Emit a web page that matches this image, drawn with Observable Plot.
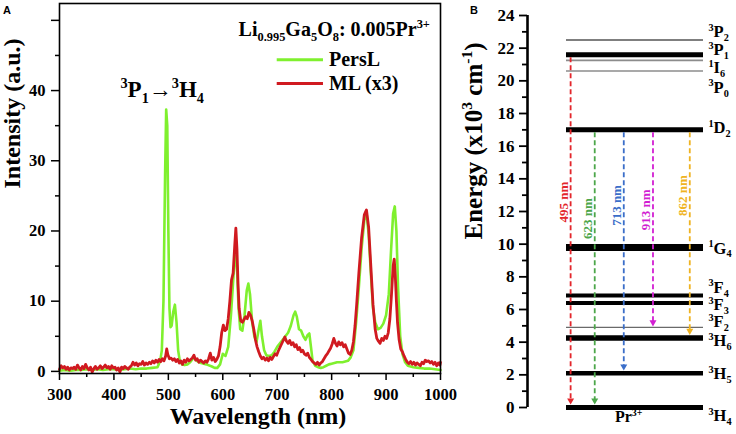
<!DOCTYPE html>
<html><head><meta charset="utf-8">
<script src="https://cdn.jsdelivr.net/npm/d3@7"></script>
<script src="https://cdn.jsdelivr.net/npm/@observablehq/plot@0.6"></script>
<style>
body{margin:0;background:#fff}
#wrap{position:relative;width:736px;height:434px;display:flex}
.tag{position:absolute;font:bold 11px 'Liberation Sans',Arial,sans-serif;color:#000}
</style></head><body>
<div id="wrap"><div id="a"></div><div id="b"></div>
<div class="tag" style="left:3px;top:4px">A</div>
<div class="tag" style="left:470px;top:4px">B</div></div>
<script>
// ---------- Panel A data ----------
const sampleName = "Li_{0.995}Ga_{5}O_{8}: 0.005Pr^{3+}";
const seriesNames = ["PersL", "ML (x3)"];
const peakLabel = "^{3}P_{1}→^{3}H_{4}";
const xTitleA = "Wavelength (nm)";
const yTitleA = "Intensity (a.u.)";
const xMajor = [300, 400, 500, 600, 700, 800, 900, 1000];
const xMinor = [350, 450, 550, 650, 750, 850, 950];
const yMajor = [0, 10, 20, 30, 40, 50];
const yLabeled = [0, 10, 20, 30, 40];
const yMinor = [5, 15, 25, 35, 45];

// PersL spectrum [wavelength nm, intensity]
const persL = [
[300,0.1],[310,0.2],[320,0.1],[330,0.2],[340,0.2],[350,0.3],[360,0.2],[370,0.3],[380,0.2],[390,0.3],
[400,0.3],[410,0.2],[420,0.3],[430,0.4],[440,0.3],[450,0.4],[460,0.4],[470,0.5],[480,0.6],[485,1.5],
[488,3],[491,10],[494,28],[496,37.3],[498,35],[500,20],[502,9],[504,6.3],[506,6.5],[509,8.5],
[512,9.5],[515,7],[518,3],[521,1.5],[525,1],[530,0.9],[535,1],[540,1.3],[545,1.8],[548,2],
[552,1.5],[560,1.2],[570,1],[580,0.7],[585,0.5],[590,0.5],[595,1],[600,2.5],[605,2.2],[610,3.5],
[615,8],[620,14],[623,16.5],[626,15],[629,9],[632,6],[636,5.8],[640,8],[644,11.5],[647,12.5],
[650,11],[654,7],[658,5],[662,4.2],[666,6],[669,7.2],[672,5],[676,3],[680,2.3],[685,2.2],
[690,2.3],[695,2.8],[700,3.5],[705,4],[710,4.5],[715,5],[720,5.5],[725,6.5],[730,8],[733,8.5],
[736,7.8],[740,6],[744,5.8],[748,5],[752,4.5],[756,5.2],[759,5.4],[762,3.5],[765,1.5],[770,0.8],
[775,0.6],[780,0.5],[785,0.6],[790,0.8],[795,1],[800,1.1],[810,1.3],[820,1.3],[830,1.5],[835,2],
[840,3],[845,7],[850,12],[855,17.5],[860,21.5],[864,22.7],[868,19.5],[872,14],[876,9],[880,7],
[885,6],[890,6.2],[895,6.8],[900,8],[905,11],[909,17],[913,22.5],[916,23.5],[919,20],[922,12],
[926,5],[930,2.5],[935,1.3],[940,0.8],[950,0.6],[960,0.5],[970,0.4],[980,0.4],[990,0.3],[1000,0.2]
];

// ML (x3) spectrum [wavelength nm, intensity]
const ml = [
[300,0.3],[303,0.8],[306,0.5],[309,0.7],[312,0.3],[315,0.6],[318,0.2],[321,0.5],[324,0.4],[327,0.6],
[330,0.3],[333,0.9],[336,0.5],[339,0.2],[342,0.7],[345,0.4],[348,1.0],[351,0.5],[354,0.2],[357,0.6],
[360,-0.1],[363,0.4],[366,0.7],[369,0.3],[372,0.5],[375,0.8],[378,0.4],[381,0.6],[384,0.9],[387,0.5],
[390,0.7],[393,0.3],[396,0.8],[399,0.5],[402,0.6],[405,0.2],[408,0.5],[411,-0.1],[414,0.6],[417,0.4],
[420,0.7],[423,0.5],[426,0.3],[429,0.6],[432,0.8],[435,1.3],[438,0.9],[441,1.2],[444,0.8],[447,1.1],
[450,1.0],[453,1.4],[456,0.9],[459,1.2],[462,1.0],[465,1.3],[468,1.1],[471,1.5],[474,1.2],[477,1.6],
[480,1.3],[483,1.7],[486,1.4],[489,1.8],[492,1.5],[495,2.2],[497,3.2],[499,2.4],[502,1.8],[505,1.9],
[508,1.6],[511,1.8],[514,1.4],[517,1.7],[520,1.2],[523,1.5],[526,1.0],[529,1.6],[532,1.3],[535,1.8],
[538,1.5],[541,1.7],[544,1.9],[547,2.3],[550,1.6],[553,1.8],[556,1.3],[559,1.6],[562,1.4],[565,1.2],
[568,1.5],[571,1.3],[574,1.8],[577,2.6],[580,1.6],[583,2.0],[586,1.4],[589,1.7],[592,2.2],[595,3.5],
[598,5.5],[601,6.6],[604,5.8],[607,6.0],[610,7.5],[613,10],[616,13],[619,14],[622,18],[624,20.4],
[626,17.5],[628,12.5],[630,9],[633,7.2],[636,7.0],[639,7.4],[642,7.8],[645,7.5],[648,8.4],[651,8.0],
[654,7.2],[657,6.0],[660,4.5],[663,3.5],[666,2.8],[669,2.2],[672,1.8],[675,2.0],[678,1.6],[681,1.9],
[684,1.5],[687,2.0],[690,1.7],[693,2.1],[696,2.5],[699,2.3],[702,2.9],[705,3.4],[708,3.9],[711,4.4],
[714,4.9],[717,4.3],[720,4.0],[723,4.4],[726,3.8],[729,4.1],[732,3.5],[735,3.8],[738,3.1],[741,3.4],
[744,2.8],[747,3.0],[750,2.5],[753,2.3],[756,2.6],[759,2.0],[762,1.7],[765,1.4],[768,1.2],[771,1.0],
[774,1.3],[777,0.9],[780,1.2],[783,1.4],[786,1.8],[789,2.2],[792,2.5],[795,2.9],[798,3.3],[801,3.9],
[804,4.7],[807,4.0],[810,3.6],[813,4.2],[816,3.8],[819,4.1],[822,3.5],[825,3.8],[828,3.2],[831,2.6],
[834,2.4],[837,3.0],[840,4.2],[843,6.5],[846,9.5],[850,14],[855,19],[860,22.3],[864,23],[868,20.5],
[872,15],[876,9.5],[880,6],[883,4.7],[886,4.3],[889,4.0],[892,4.7],[895,4.4],[898,5.0],[901,4.7],
[904,5.5],[907,7.5],[910,11],[913,15],[915,16],[917,13.5],[919,10],[921,7],[924,4.5],[927,3.2],
[930,2.8],[933,2.2],[936,1.7],[939,1.3],[942,1.1],[945,1.4],[948,1.0],[951,1.3],[954,0.9],[957,1.2],
[960,1.0],[963,0.8],[966,1.3],[969,1.1],[972,1.6],[975,1.4],[978,1.5],[981,1.2],[984,1.4],[987,1.0],
[990,1.3],[993,0.8],[996,1.2],[999,0.9],[1000,1.3]
];

// ---------- Panel B data ----------
const levelNames = ["3P2","3P1","1I6","3P0","1D2","1G4","3F4","3F3","3F2","3H6","3H5","3H4"];
const levelEnergy = [22.5, 21.6, 21.25, 20.6, 17.0, 9.8, 6.85, 6.4, 4.9, 4.25, 2.1, 0];
const transWavelength = [495, 623, 713, 913, 862];
const transFrom = ["3P1","1D2","1D2","1D2","1D2"];
const transTo = ["3H4","3H4","3H5","3F2","3H6"];
const ionName = "Pr^{3+}";
const yTitleB = "Energy (x10^{3} cm^{-1})";
const yTicksB = [0,2,4,6,8,10,12,14,16,18,20,22,24];
const yMinorB = [1,3,5,7,9,11,13,15,17,19,21,23];

// ---------- styles / layout ----------
const FONT = "'Liberation Serif','Times New Roman',serif";
const GREEN = "#7ff02e", RED = "#d01a20";
const LEVEL_STYLE = {"3P2":[1.2,"#000"],"3P1":[5,"#000"],"1I6":[1.6,"#8c8c8c"],"3P0":[1.6,"#8c8c8c"],
  "1D2":[5,"#000"],"1G4":[7,"#000"],"3F4":[4,"#000"],"3F3":[4,"#000"],"3F2":[1.2,"#6a6a6a"],
  "3H6":[5.5,"#000"],"3H5":[4.5,"#000"],"3H4":[5,"#000"]};
const LEVEL_LABEL_Y = [23.0, 21.9, 20.8, 19.6, 17.1, 9.75, 7.36, 6.3, 5.23, 4.1, 2.08, -0.49];
const TRANS_COLOR = ["#e3262b","#4ca64a","#3b6ec9","#d21fd2","#efb321"];
const TRANS_SLOT = [0.245, 0.382, 0.547, 0.713, 0.922];
const TRANS_LABEL_Y = [12.57, 11.56, 12.37, 12.1, 12.98];

const markup = n => n.replace(/^(\d)([A-Z])(\d)$/, "^{$1}$2_{$3}");

// ---------- Panel A ----------
const persRows = persL.map(([wl, v]) => ({wl, v}));
const mlRows = ml.map(([wl, v]) => ({wl, v}));
const legendY = [44.4, 41.0];
const TICK_FS = 16.5;

const chartA = Plot.plot({
  width: 460, height: 434,
  marginLeft: 59, marginRight: 20, marginTop: 3, marginBottom: 61,
  x: {domain: [300, 1000]},
  y: {domain: [-0.3, 52.4]},
  style: {fontFamily: FONT, fontWeight: "bold", fontSize: "16.5px", color: "#000", background: "#fff", overflow: "visible"},
  marks: [
    Plot.line(persRows, {x: "wl", y: "v", stroke: GREEN, strokeWidth: 2.6}),
    Plot.line(mlRows, {x: "wl", y: "v", stroke: RED, strokeWidth: 2.8}),
    Plot.frame({stroke: "#000", strokeWidth: 1.6}),
    Plot.axisX(xMajor, {tickSize: 7, tickPadding: 8, strokeWidth: 1.5, label: null, tickFormat: d => String(d), fontSize: TICK_FS}),
    Plot.axisX(xMinor, {tickSize: 4, strokeWidth: 1.5, tickFormat: () => "", label: null}),
    Plot.axisY(yMajor, {tickSize: 8, tickPadding: 6, strokeWidth: 1.5, tickFormat: d => yLabeled.includes(d) ? String(d) : "", label: null, fontSize: TICK_FS}),
    Plot.axisY(yMinor, {tickSize: 4, strokeWidth: 1.5, tickFormat: () => "", label: null}),
    Plot.text([xTitleA], {text: d => d, frameAnchor: "bottom", lineAnchor: "middle", dx: 8, dy: 43, fontSize: 24}),
    Plot.text([yTitleA], {text: d => d, frameAnchor: "left", lineAnchor: "middle", rotate: -90, dx: -47, fontSize: 24}),
    Plot.text([sampleName], {text: d => d, x: 629, y: 48.7, textAnchor: "start", fontSize: 20}),
    Plot.ruleY([legendY[0]], {x1: 700, x2: 785, stroke: GREEN, strokeWidth: 3}),
    Plot.ruleY([legendY[1]], {x1: 700, x2: 785, stroke: RED, strokeWidth: 3}),
    Plot.text(seriesNames, {text: d => d, x: 795, y: (d, i) => legendY[i], textAnchor: "start", fontSize: 20}),
    Plot.text([peakLabel], {text: d => d, x: 412, y: 40.1, textAnchor: "start", fontSize: 23})
  ]
});

// ---------- Panel B ----------
const mt = 15, mb = 27, hB = 434;
const pxPerUnit = (hB - mt - mb) / 24;
const E = Object.fromEntries(levelNames.map((n, i) => [n, levelEnergy[i]]));
const levelRows = levelNames.map((name, i) => ({name, e: levelEnergy[i]}));
const transRows = transWavelength.map((wl, i) => {
  const tip = E[transTo[i]] + (LEVEL_STYLE[transTo[i]][0] / 2 + 0.5) / pxPerUnit;
  return {
    wl, i,
    x: TRANS_SLOT[i],
    y1: E[transFrom[i]] - (LEVEL_STYLE[transFrom[i]][0] / 2) / pxPerUnit,
    y2: tip + 3 / pxPerUnit,
    tip,
    color: TRANS_COLOR[i],
    ly: TRANS_LABEL_Y[i]
  };
});

const chartB = Plot.plot({
  width: 276, height: hB,
  marginLeft: 67, marginRight: 33, marginTop: mt, marginBottom: mb,
  x: {domain: [0, 1], axis: null},
  y: {domain: [0, 24]},
  color: {type: "identity"},
  style: {fontFamily: FONT, fontWeight: "bold", fontSize: "17px", color: "#000", background: "#fff", overflow: "visible"},
  marks: [
    Plot.axisY(yTicksB, {tickSize: 8, tickPadding: 5, strokeWidth: 1.8, label: null, fontSize: 17}),
    Plot.axisY(yMinorB, {tickSize: 5, strokeWidth: 1.8, tickFormat: () => "", label: null}),
    Plot.ruleX([0], {stroke: "#000", strokeWidth: 2.6}),
    Plot.ruleY(levelRows, {y: "e", x1: 0.2216, x2: 1, stroke: d => LEVEL_STYLE[d.name][1], strokeWidth: d => LEVEL_STYLE[d.name][0]}),
    Plot.text(levelRows, {x: 1, y: (d, i) => LEVEL_LABEL_Y[i], text: d => markup(d.name), textAnchor: "start", dx: 5, fontSize: 16.5}),
    Plot.link(transRows, {x1: "x", x2: "x", y1: "y1", y2: "y2", stroke: "color", strokeWidth: 1.8, strokeDasharray: "5,3"}),
    Plot.dot(transRows, {x: "x", y: "tip", symbol: "triangle", r: 2.6, rotate: 180, fill: "color", stroke: null, dy: -4}),
    Plot.text(transRows, {x: "x", y: "ly", text: d => `${d.wl} nm`, rotate: -90, dx: -7, fill: "color", fontSize: 13}),
    Plot.text([ionName], {text: d => d, x: 0.575, y: -0.55, fontSize: 16}),
    Plot.text([yTitleB], {text: d => d, frameAnchor: "left", lineAnchor: "middle", rotate: -90, dx: -54, dy: 28, fontSize: 25})
  ]
});

document.getElementById("a").appendChild(chartA);
document.getElementById("b").appendChild(chartB);

// rich text: ^{..} superscript, _{..} subscript
function richText(svg) {
  const NS = "http://www.w3.org/2000/svg";
  svg.querySelectorAll("text").forEach(el => {
    const s = el.textContent;
    if (!/[\^_]\{/.test(s)) return;
    const fs = parseFloat(getComputedStyle(el).fontSize);
    const dy0 = el.getAttribute("dy");
    let carry = dy0 ? (String(dy0).endsWith("em") ? parseFloat(dy0) * fs : parseFloat(dy0)) : 0;
    el.removeAttribute("dy");
    el.textContent = "";
    const re = /([\^_])\{([^}]*)\}|([^\^_]+)/g;
    let m, cur = 0;
    while ((m = re.exec(s))) {
      const t = document.createElementNS(NS, "tspan");
      let target = 0;
      if (m[1]) {
        target = m[1] === "^" ? -0.38 * fs : 0.24 * fs;
        t.setAttribute("font-size", (0.62 * fs).toFixed(2));
        t.textContent = m[2];
      } else t.textContent = m[3];
      const d = target - cur + carry;
      carry = 0;
      if (d) t.setAttribute("dy", d.toFixed(2));
      cur = target;
      el.appendChild(t);
    }
  });
}
richText(chartA);
richText(chartB);
</script></body></html>
